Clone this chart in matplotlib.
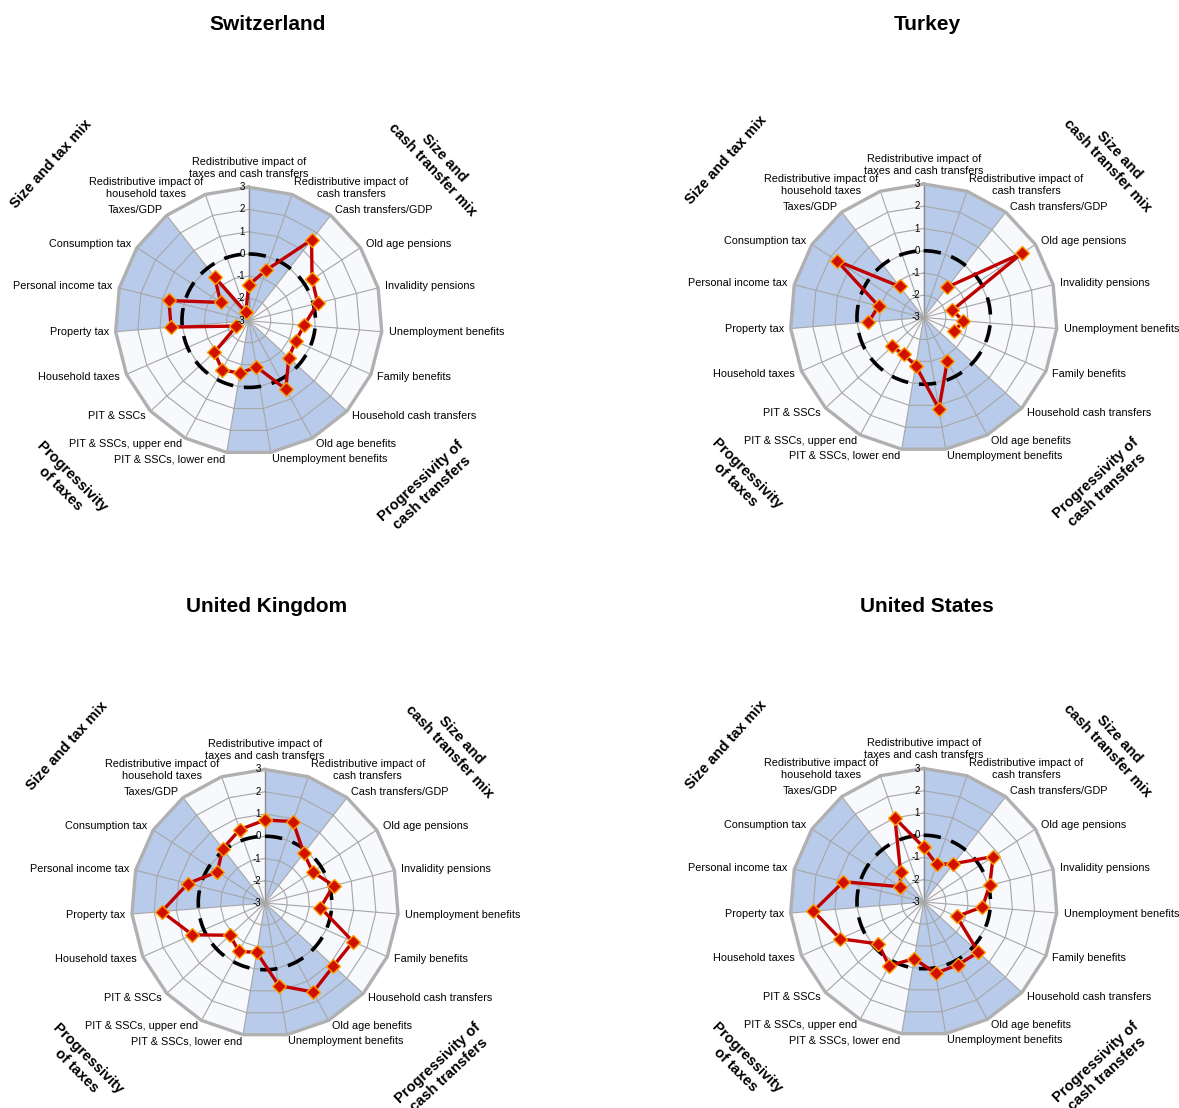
import numpy as np
import matplotlib.pyplot as plt
from matplotlib.transforms import offset_copy

plt.rcParams['font.family'] = ['Liberation Sans', 'DejaVu Sans']

# spokes, clockwise from the top
categories = [
    "Redistributive impact of\ntaxes and cash transfers",
    "Redistributive impact of\ncash transfers",
    "Cash transfers/GDP",
    "Old age pensions",
    "Invalidity pensions",
    "Unemployment benefits",
    "Family benefits",
    "Household cash transfers",
    "Old age benefits",
    "Unemployment benefits",
    "PIT & SSCs, lower end",
    "PIT & SSCs, upper end",
    "PIT & SSCs",
    "Household taxes",
    "Property tax",
    "Personal income tax",
    "Consumption tax",
    "Taxes/GDP",
    "Redistributive impact of\nhousehold taxes",
]
ticks = [-3, -2, -1, 0, 1, 2, 3]
# spoke ranges filled in blue
shaded = [(0, 2), (7, 10), (14, 17)]
groups = ["Size and tax mix", "Size and\ncash transfer mix",
          "Progressivity\nof taxes", "Progressivity of\ncash transfers"]

nan = np.nan
switzerland = [-1.4, -0.6, 1.6, 0.4, 0.2, -0.5, -0.7, -0.55, 0.5, -0.9,
               -0.6, -0.5, -0.9, -2.4, 0.5, 0.7, -1.5, -0.5, -2.6]
turkey = [nan, nan, -1.27, 2.29, -1.68, -1.21, -1.49, nan, -0.77, 1.16,
          -0.81, -1.11, -1.09, nan, -0.51, -0.91, 1.65, -1.23, nan]
united_kingdom = [0.73, 0.87, -0.16, -0.44, 0.18, -0.5, 1.32, 1.18, 1.55, 0.76,
                  -0.75, -0.53, -0.86, 0.56, 1.66, 0.57, -0.44, 0.09, 0.49]
united_states = [-0.54, -1.21, -0.82, 0.73, 0.06, -0.35, -1.38, 0.34, 0.21, 0.25,
                 -0.42, 0.26, -0.22, 1.11, 1.97, 0.72, -1.75, -1.31, 0.99]

W, H = 1179, 1108
fig = plt.figure(figsize=(W / 100, H / 100), dpi=100)
R = 133.5  # radius of the chart in pixels

n = len(categories)
theta = np.arange(n) * 2 * np.pi / n
theta_c = np.append(theta, theta[0])

# offsets of the group labels from the chart centre (pixels, y down)
group_pos = [(-198, -157, 48), (190, -157, -47), (-183, 162, -45), (178, 166, 43)]


def radar(center, title_xy, title, values):
    cx, cy = center
    ax = fig.add_axes([(cx - R) / W, 1 - (cy + R) / H, 2 * R / W, 2 * R / H],
                      projection='polar')
    ax.set_theta_zero_location('N')
    ax.set_theta_direction(-1)
    ax.set_ylim(-3, 3)
    ax.set_axis_off()

    # background + blue sectors
    ax.fill(theta_c, [3] * (n + 1), color='#f7f9fd', lw=0, zorder=0)
    for a, b in shaded:
        th = theta[a:b + 1]
        ax.fill(np.concatenate([[theta[a]], th, [theta[b]]]),
                [-3] + [3] * len(th) + [-3], color='#b9cbeb', lw=0, zorder=1)

    # polygon grid
    for v in ticks[1:-1]:
        ax.plot(theta_c, [v] * (n + 1), color='#a6a6a6', lw=0.8, zorder=2)
    for i, t in enumerate(theta):
        ax.plot([t, t], [-3, 3], color='#8c8c8c' if i == 0 else '#a6a6a6',
                lw=1.0 if i == 0 else 0.8, zorder=2)
    ax.plot(theta_c, [3] * (n + 1), color='#b0b0b0', lw=2.4, zorder=3,
            clip_on=False)

    # zero circle
    circ = np.linspace(0, 2 * np.pi, 300)
    ax.plot(circ, np.zeros_like(circ), color='black', lw=2.6,
            dashes=(4.8, 3.0), zorder=4)

    # series
    vals = np.append(values, values[0])
    ax.plot(theta_c, vals, color='#c00000', lw=2.4, marker='D', ms=6.8,
            mfc='#d01000', mec='#ffa000', mew=1.0, zorder=6, clip_on=False)

    # value labels
    tr = offset_copy(ax.transData, fig=fig, x=-4, y=0, units='dots')
    for v in ticks:
        ax.text(0, v, str(v), transform=tr, ha='right', va='center',
                fontsize=7, zorder=7)

    # category labels
    for t, lab in zip(theta, categories):
        s = np.sin(t)
        if abs(s) < 0.05:
            ax.text(t, 3.38, lab, ha='center', va='bottom',
                    multialignment='center', fontsize=7.8)
        else:
            ax.text(t, 3.31, lab, ha='left' if s > 0 else 'right',
                    va='center', multialignment='center', fontsize=7.8)

    # group labels
    for lab, (dx, dy, rot) in zip(groups, group_pos):
        ax.text(0.5 + dx / (2 * R), 0.5 - dy / (2 * R), lab,
                transform=ax.transAxes, ha='center', va='center',
                rotation=rot, rotation_mode='anchor', multialignment='center',
                fontsize=10.5, fontweight='bold', clip_on=False)

    fig.text(title_xy[0] / W, 1 - title_xy[1] / H, title, ha='center',
             va='center', fontsize=15, fontweight='bold')


radar((248.7, 320.7), (268, 25), "Switzerland", switzerland)
radar((923.7, 317.5), (927, 25), "Turkey", turkey)
radar((265, 903), (267, 607), "United Kingdom", united_kingdom)
radar((923.7, 902), (927, 607), "United States", united_states)

fig.savefig('out.png', dpi=100)
